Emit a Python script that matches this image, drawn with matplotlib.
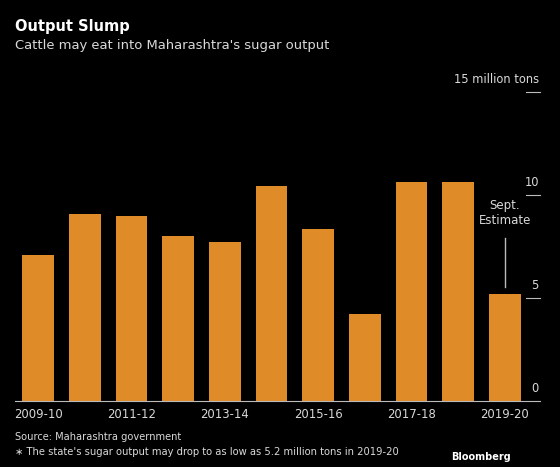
import matplotlib
matplotlib.use("Agg")
import matplotlib.pyplot as plt
import matplotlib.transforms as mtransforms

# data (million tons)
seasons = ["2009-10", "2010-11", "2011-12", "2012-13", "2013-14", "2014-15",
           "2015-16", "2016-17", "2017-18", "2018-19", "2019-20"]
output = [7.1, 9.08, 8.99, 7.99, 7.72, 10.44, 8.35, 4.21, 10.65, 10.65, 5.2]
y_ticks = [0, 5, 10, 15]
y_labels = ["0", "5", "10", "15 million tons"]

bg = "black"
bar_color = "#DF8B28"
text_color = "#d9d9d9"

fig = plt.figure(figsize=(5.6, 4.67), dpi=100, facecolor=bg)
ax = fig.add_axes([15 / 560, 66 / 467, 525 / 560, 309 / 467])
ax.set_facecolor(bg)

x = list(range(len(seasons)))
ax.bar(x, output, width=0.68, color=bar_color, zorder=2)
ax.set_xlim(-0.5, 10.755)
ax.set_ylim(0, 15)

# x axis: label every other season
ax.set_xticks(x[::2])
ax.set_xticklabels(seasons[::2], color=text_color, fontsize=8.4)
ax.tick_params(axis="x", length=0, pad=5)
ax.set_yticks([])
for side in ["top", "left", "right"]:
    ax.spines[side].set_visible(False)
ax.spines["bottom"].set_color("#bbbbbb")
ax.spines["bottom"].set_linewidth(0.8)

# right-hand ticks drawn as short dashes with labels above
trans = mtransforms.blended_transform_factory(ax.transAxes, ax.transData)
for val, lab in zip(y_ticks, y_labels):
    if val > 0:
        ax.plot([0.9733, 1.0], [val, val], color="#bbbbbb", lw=0.8,
                transform=trans, clip_on=False)
    ax.annotate(lab, xy=(0.998, val), xycoords=trans, xytext=(0, 4),
                textcoords="offset points", ha="right", va="bottom",
                color=text_color, fontsize=8.3)

# annotation for last bar
ax.text(10, 9.13, "Sept.\nEstimate", ha="center", va="center", color=text_color,
        fontsize=8.5, linespacing=1.2)
ax.plot([10, 10], [5.55, 7.93], color="#bbbbbb", lw=1)

# titles
fig.text(15 / 560, 1 - 26 / 467, "Output Slump", color="white", fontsize=10.5,
         fontweight="bold", va="center", ha="left")
fig.text(15 / 560, 1 - 46 / 467, "Cattle may eat into Maharashtra's sugar output",
         color=text_color, fontsize=9.45, va="center", ha="left")

# footer
fig.text(15 / 560, 1 - 437 / 467, "Source: Maharashtra government",
         color=text_color, fontsize=7.1, va="center", ha="left")
fig.text(15 / 560, 1 - 452 / 467,
         "\u2217 The state's sugar output may drop to as low as 5.2 million tons in 2019-20",
         color=text_color, fontsize=7.2, va="center", ha="left")
fig.text(511 / 560, 1 - 457 / 467, "Bloomberg", color="white", fontsize=7.0,
         fontweight="bold", va="center", ha="right")

fig.savefig("out.png", dpi=100, facecolor=bg)
